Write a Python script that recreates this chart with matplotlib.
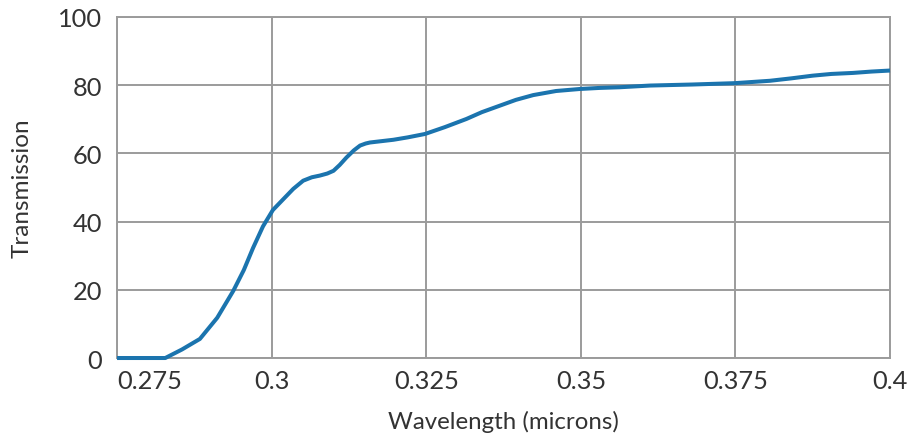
import matplotlib
matplotlib.use('Agg')
from matplotlib import pyplot as plt

# transmission curve
wavelength = [0.275, 0.2828, 0.2855, 0.2884, 0.2912, 0.2938, 0.2955, 0.2970, 0.2986, 0.3002,
              0.3019, 0.3035, 0.3051, 0.3065, 0.3078, 0.3090, 0.3100, 0.3110, 0.3121,
              0.3133, 0.3143, 0.3152, 0.3159, 0.3178, 0.3197, 0.3220, 0.3248, 0.3280,
              0.3315, 0.3340, 0.3369, 0.3395, 0.3423, 0.3460, 0.3499, 0.3530, 0.3563,
              0.3612, 0.3680, 0.3749, 0.3806, 0.3840, 0.3875, 0.3905, 0.3940, 0.3970, 0.4]
transmission = [0.0, 0.0, 2.5, 5.6, 11.8, 19.7, 25.8, 32.3, 38.6, 43.4,
                46.6, 49.6, 52.0, 53.0, 53.5, 54.1, 54.9, 56.6, 58.8,
                60.9, 62.3, 62.9, 63.2, 63.6, 64.0, 64.7, 65.7, 67.7,
                70.1, 72.1, 74.0, 75.7, 77.1, 78.3, 78.9, 79.2, 79.4,
                79.9, 80.2, 80.6, 81.3, 82.0, 82.8, 83.3, 83.6, 84.0, 84.3]

xticks = [0.275, 0.3, 0.325, 0.35, 0.375, 0.4]
xtick_labels = ['0.275', '0.3', '0.325', '0.35', '0.375', '0.4']
yticks = [0, 20, 40, 60, 80, 100]

plt.rcParams['font.family'] = ['Lato', 'DejaVu Sans']
text_c = '#333333'
grid_c = '#9b9b9b'

fig = plt.figure(figsize=(9.08, 4.39), dpi=100)
ax = fig.add_axes([0.1289, 0.1822, 0.8513, 0.7768])

ax.plot(wavelength, transmission, color='#1b74ae', lw=2.9, solid_capstyle='butt',
        solid_joinstyle='round', clip_on=False, zorder=3)

ax.set_xlim(0.275, 0.4)
ax.set_ylim(0, 100)
ax.set_xticks(xticks, xtick_labels)
ax.set_yticks(yticks)
ax.get_xticklabels()[0].set_horizontalalignment('left')

ax.grid(True, color=grid_c, lw=1.4)
ax.set_axisbelow(True)
for s in ax.spines.values():
    s.set_color(grid_c)
    s.set_linewidth(1.4)

ax.tick_params(length=0, labelsize=18.3, colors=text_c)
ax.tick_params(axis='x', pad=8)
ax.tick_params(axis='y', pad=11)

ax.set_xlabel('Wavelength (microns)', fontsize=17.3, color=text_c, labelpad=13)
ax.set_ylabel('Transmission', fontsize=17.5, color=text_c, labelpad=18)

fig.savefig('out.png', dpi=100)
